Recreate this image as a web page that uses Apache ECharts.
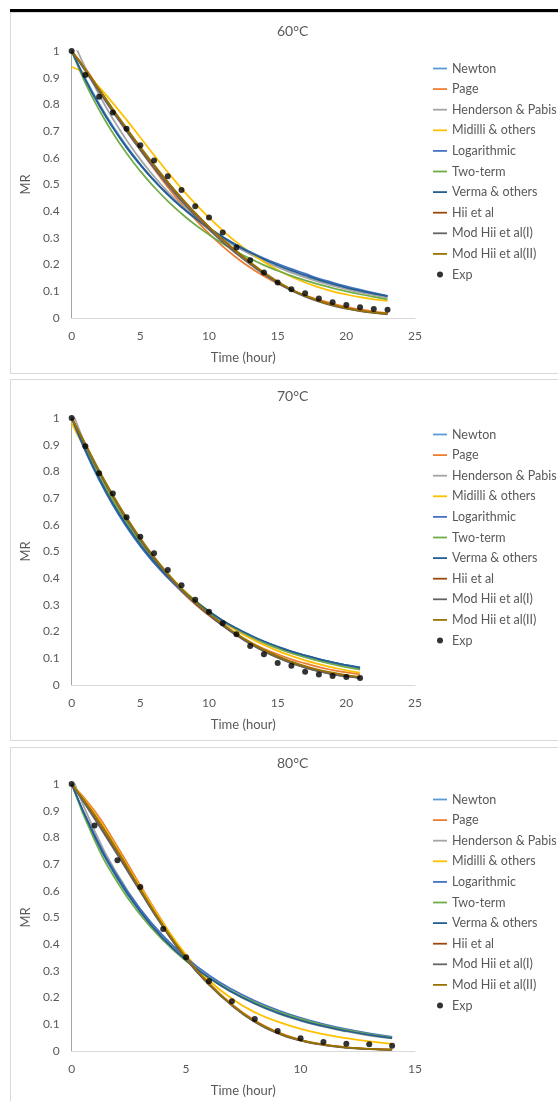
<!DOCTYPE html>
<html>
<head>
<meta charset="utf-8">
<script src="https://cdn.jsdelivr.net/npm/echarts@6.0.0/dist/echarts.min.js"></script>
<style>
    body { margin: 0; background: #fff; width: 558px; height: 1101px; overflow: hidden; position: relative; }
    .topLine { position: absolute; left: 10px; top: 9px; width: 548px; height: 3px; background: #000; }
    .panel { position: absolute; left: 10px; width: 560px; height: 360px; border: 1px solid #d9d9d9; }
</style>
</head>
<body>
<div class="topLine"></div>
<div class="panel" id="p60" style="top:12px"></div>
<div class="panel" id="p70" style="top:379px"></div>
<div class="panel" id="p80" style="top:747px"></div>
<script>
// 模型名称和颜色
var modelNames = ['Newton', 'Page', 'Henderson & Pabis', 'Midilli & others', 'Logarithmic',
    'Two-term', 'Verma & others', 'Hii et al', 'Mod Hii et al(I)', 'Mod Hii et al(II)'];
var modelColors = ['#5B9BD5', '#ED7D31', '#A5A5A5', '#FFC000', '#4472C4',
    '#70AD47', '#255E91', '#9E480E', '#636363', '#997300'];

// 60°C
var t60 = [0, 1, 2, 3, 4, 5, 6, 7, 8, 9, 10, 11, 12, 13, 14, 15, 16, 17, 18, 19, 20, 21, 22, 23];
var exp60 = [1, 0.91, 0.829, 0.77, 0.709, 0.647, 0.59, 0.531, 0.479, 0.419, 0.376, 0.32, 0.264, 0.216, 0.17, 0.133, 0.108, 0.093, 0.073, 0.059, 0.049, 0.04, 0.034, 0.031];
var newton60 = [1, 0.896, 0.803, 0.719, 0.644, 0.577, 0.517, 0.463, 0.415, 0.372, 0.333, 0.298, 0.267, 0.24, 0.215, 0.192, 0.172, 0.154, 0.138, 0.124, 0.111, 0.099, 0.089, 0.08];
var page60 = [1, 0.935, 0.858, 0.78, 0.703, 0.629, 0.558, 0.49, 0.427, 0.369, 0.316, 0.268, 0.226, 0.189, 0.157, 0.129, 0.105, 0.085, 0.068, 0.054, 0.042, 0.032, 0.024, 0.018];
var henderson60 = [1.05, 0.937, 0.836, 0.746, 0.666, 0.594, 0.53, 0.473, 0.422, 0.377, 0.336, 0.3, 0.268, 0.239, 0.213, 0.19, 0.17, 0.152, 0.135, 0.121, 0.108, 0.096, 0.086, 0.076];
var midilli60 = [0.94, 0.915, 0.865, 0.805, 0.742, 0.676, 0.61, 0.546, 0.485, 0.428, 0.376, 0.328, 0.284, 0.245, 0.21, 0.18, 0.155, 0.133, 0.115, 0.1, 0.088, 0.078, 0.07, 0.064];
var logarithmic60 = [1, 0.893, 0.798, 0.714, 0.639, 0.573, 0.514, 0.462, 0.415, 0.374, 0.337, 0.304, 0.274, 0.248, 0.224, 0.203, 0.184, 0.166, 0.148, 0.133, 0.119, 0.106, 0.094, 0.083];
var twoterm60 = [1, 0.88, 0.78, 0.693, 0.617, 0.55, 0.491, 0.438, 0.391, 0.349, 0.312, 0.279, 0.249, 0.222, 0.198, 0.177, 0.158, 0.141, 0.126, 0.112, 0.1, 0.089, 0.079, 0.07];
var verma60 = [1, 0.892, 0.797, 0.713, 0.639, 0.574, 0.515, 0.463, 0.416, 0.374, 0.336, 0.302, 0.272, 0.245, 0.22, 0.198, 0.178, 0.16, 0.143, 0.128, 0.114, 0.102, 0.091, 0.082];
var hii60 = [1, 0.93, 0.855, 0.78, 0.708, 0.638, 0.571, 0.507, 0.447, 0.391, 0.34, 0.293, 0.249, 0.207, 0.168, 0.134, 0.105, 0.082, 0.063, 0.048, 0.036, 0.027, 0.02, 0.015];
var modhii1_60 = [1, 0.925, 0.848, 0.772, 0.699, 0.629, 0.562, 0.498, 0.438, 0.382, 0.331, 0.284, 0.241, 0.201, 0.164, 0.131, 0.103, 0.08, 0.061, 0.046, 0.035, 0.026, 0.019, 0.014];
var modhii2_60 = [1, 0.932, 0.858, 0.783, 0.711, 0.641, 0.574, 0.51, 0.45, 0.394, 0.342, 0.294, 0.25, 0.209, 0.171, 0.137, 0.108, 0.084, 0.064, 0.049, 0.037, 0.028, 0.021, 0.016];

// 70°C
var t70 = [0, 1, 2, 3, 4, 5, 6, 7, 8, 9, 10, 11, 12, 13, 14, 15, 16, 17, 18, 19, 20, 21];
var exp70 = [1, 0.894, 0.793, 0.717, 0.628, 0.555, 0.493, 0.431, 0.374, 0.319, 0.274, 0.231, 0.19, 0.146, 0.115, 0.082, 0.072, 0.05, 0.039, 0.034, 0.03, 0.026];
var newton70 = [1, 0.878, 0.771, 0.677, 0.595, 0.522, 0.458, 0.403, 0.353, 0.31, 0.273, 0.239, 0.21, 0.185, 0.162, 0.142, 0.125, 0.11, 0.096, 0.085, 0.074, 0.065];
var page70 = [1, 0.9, 0.796, 0.7, 0.613, 0.535, 0.466, 0.404, 0.35, 0.302, 0.26, 0.223, 0.19, 0.161, 0.136, 0.115, 0.096, 0.081, 0.067, 0.056, 0.047, 0.04];
var henderson70 = [1.03, 0.9, 0.787, 0.688, 0.601, 0.525, 0.459, 0.401, 0.351, 0.307, 0.268, 0.234, 0.205, 0.179, 0.156, 0.137, 0.119, 0.104, 0.091, 0.08, 0.07, 0.061];
var midilli70 = [0.98, 0.88, 0.783, 0.695, 0.614, 0.541, 0.475, 0.416, 0.363, 0.316, 0.274, 0.237, 0.204, 0.175, 0.15, 0.128, 0.109, 0.092, 0.078, 0.066, 0.055, 0.046];
var logarithmic70 = [1, 0.876, 0.768, 0.674, 0.592, 0.52, 0.457, 0.402, 0.353, 0.31, 0.272, 0.239, 0.21, 0.184, 0.162, 0.142, 0.125, 0.11, 0.097, 0.085, 0.075, 0.066];
var twoterm70 = [1, 0.885, 0.782, 0.69, 0.608, 0.535, 0.47, 0.412, 0.361, 0.316, 0.276, 0.241, 0.21, 0.183, 0.159, 0.138, 0.12, 0.104, 0.09, 0.078, 0.067, 0.058];
var verma70 = [1, 0.88, 0.774, 0.68, 0.598, 0.526, 0.462, 0.406, 0.357, 0.314, 0.276, 0.242, 0.213, 0.187, 0.164, 0.144, 0.126, 0.111, 0.097, 0.085, 0.074, 0.064];
var hii70 = [1, 0.9, 0.8, 0.708, 0.623, 0.545, 0.475, 0.412, 0.356, 0.307, 0.265, 0.224, 0.187, 0.155, 0.127, 0.103, 0.083, 0.066, 0.052, 0.041, 0.033, 0.027];
var modhii1_70 = [1, 0.898, 0.797, 0.705, 0.62, 0.543, 0.473, 0.41, 0.354, 0.305, 0.262, 0.222, 0.186, 0.154, 0.126, 0.102, 0.082, 0.065, 0.051, 0.04, 0.032, 0.026];
var modhii2_70 = [1, 0.903, 0.804, 0.712, 0.627, 0.55, 0.48, 0.417, 0.361, 0.311, 0.268, 0.228, 0.192, 0.16, 0.132, 0.108, 0.088, 0.071, 0.057, 0.046, 0.037, 0.03];

// 80°C
var t80 = [0, 1, 2, 3, 4, 5, 6, 7, 8, 9, 10, 11, 12, 13, 14];
var exp80 = [1, 0.845, 0.714, 0.614, 0.457, 0.351, 0.261, 0.186, 0.12, 0.075, 0.048, 0.034, 0.027, 0.025, 0.02];
var newton80 = [1, 0.8, 0.645, 0.52, 0.42, 0.34, 0.275, 0.222, 0.18, 0.146, 0.118, 0.096, 0.078, 0.063, 0.051];
var page80 = [1, 0.9, 0.765, 0.62, 0.48, 0.355, 0.255, 0.175, 0.114, 0.071, 0.042, 0.025, 0.014, 0.008, 0.005];
var henderson80 = [1.03, 0.825, 0.662, 0.531, 0.426, 0.342, 0.274, 0.22, 0.176, 0.141, 0.113, 0.091, 0.073, 0.058, 0.047];
var midilli80 = [1, 0.89, 0.755, 0.613, 0.478, 0.36, 0.265, 0.196, 0.145, 0.11, 0.083, 0.063, 0.048, 0.036, 0.027];
var logarithmic80 = [1, 0.81, 0.656, 0.532, 0.431, 0.35, 0.284, 0.231, 0.188, 0.153, 0.124, 0.101, 0.082, 0.066, 0.053];
var twoterm80 = [1, 0.79, 0.632, 0.51, 0.414, 0.337, 0.275, 0.224, 0.182, 0.148, 0.12, 0.097, 0.078, 0.063, 0.05];
var verma80 = [1, 0.805, 0.648, 0.522, 0.421, 0.34, 0.274, 0.221, 0.178, 0.143, 0.115, 0.093, 0.075, 0.06, 0.048];
var hii80 = [1, 0.875, 0.74, 0.6, 0.465, 0.345, 0.25, 0.172, 0.11, 0.067, 0.04, 0.023, 0.013, 0.008, 0.005];
var modhii1_80 = [1, 0.87, 0.735, 0.597, 0.463, 0.344, 0.248, 0.17, 0.109, 0.066, 0.039, 0.022, 0.012, 0.007, 0.004];
var modhii2_80 = [1, 0.885, 0.75, 0.607, 0.47, 0.35, 0.252, 0.173, 0.112, 0.069, 0.041, 0.024, 0.014, 0.008, 0.005];

var yTicks = [0, 0.1, 0.2, 0.3, 0.4, 0.5, 0.6, 0.7, 0.8, 0.9, 1];

var textColor = '#595959';
var fontName = 'Lato';
// 图例里的线段图标（细长条）
var lineIcon = 'path://M0,0H14V1.8H0Z';

function pairs(times, vals) {
    return times.map(function (t, i) { return [t, vals[i]]; });
}

function drawPanel(domId, title, times, expVals, curves, xMax, gridTop, legendTop, titleTop) {
    var chart = echarts.init(document.getElementById(domId));
    var series = curves.map(function (vals, i) {
        return {
            name: modelNames[i],
            type: 'line',
            data: pairs(times, vals),
            smooth: 0.5,
            symbol: 'none',
            lineStyle: { width: 1.75, color: modelColors[i] },
            itemStyle: { color: modelColors[i] },
            z: 2
        };
    });
    series.push({
        name: 'Exp',
        type: 'scatter',
        data: pairs(times, expVals),
        symbolSize: 6,
        itemStyle: { color: '#000' },
        z: 5
    });

    var legendData = modelNames.map(function (n) {
        return { name: n, icon: lineIcon };
    });
    legendData.push({ name: 'Exp', icon: 'circle' });

    var option = {
        animation: false,
        title: {
            text: title,
            left: 261,
            top: titleTop,
            textStyle: { fontFamily: fontName, fontSize: 14, fontWeight: 'normal', color: textColor }
        },
        legend: {
            orient: 'vertical',
            left: 417,
            top: legendTop,
            itemWidth: 14,
            itemHeight: 6,
            itemGap: 7.6,
            textStyle: { fontFamily: fontName, fontSize: 12.5, color: textColor, lineHeight: 13 },
            data: legendData
        },
        grid: { left: 59, top: gridTop, width: 345, height: 267 },
        xAxis: {
            type: 'value',
            min: 0,
            max: xMax,
            interval: 5,
            name: 'Time (hour)',
            nameLocation: 'middle',
            nameGap: 33,
            nameTextStyle: { fontFamily: fontName, fontSize: 13, color: textColor },
            splitLine: { show: false },
            axisTick: { show: false },
            axisLine: { lineStyle: { color: '#d9d9d9' } },
            axisLabel: { fontFamily: fontName, fontSize: 12, color: textColor, margin: 12 }
        },
        yAxis: {
            type: 'value',
            min: yTicks[0],
            max: yTicks[yTicks.length - 1],
            interval: 0.1,
            name: 'MR',
            nameLocation: 'middle',
            nameGap: 20,
            nameTextStyle: { fontFamily: fontName, fontSize: 13, color: textColor },
            splitLine: { show: false },
            axisTick: { show: false },
            axisLine: { show: true, lineStyle: { color: '#a6a6a6' } },
            axisLabel: { fontFamily: fontName, fontSize: 12, color: textColor, margin: 12 }
        },
        series: series
    };
    chart.setOption(option);
}

drawPanel('p60', '60°C', t60, exp60,
    [newton60, page60, henderson60, midilli60, logarithmic60, twoterm60, verma60, hii60, modhii1_60, modhii2_60],
    25, 38, 44, 6);
drawPanel('p70', '70°C', t70, exp70,
    [newton70, page70, henderson70, midilli70, logarithmic70, twoterm70, verma70, hii70, modhii1_70, modhii2_70],
    25, 38, 43, 4);
drawPanel('p80', '80°C', t80, exp80,
    [newton80, page80, henderson80, midilli80, logarithmic80, twoterm80, verma80, hii80, modhii1_80, modhii2_80],
    15, 36, 40, 3);
</script>
</body>
</html>
